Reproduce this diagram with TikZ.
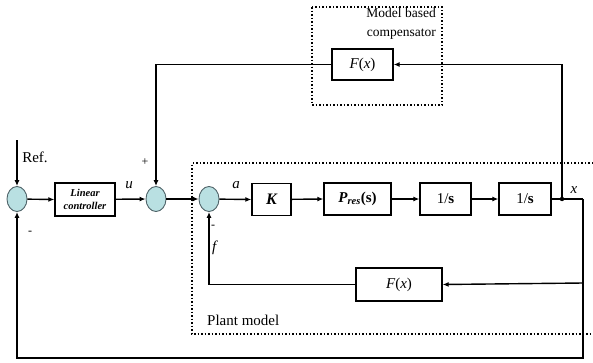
\documentclass[tikz,border=0pt]{standalone}
\usepackage{fontspec}
\setmainfont{Liberation Serif}
\usetikzlibrary{arrows.meta,shapes.geometric}
\definecolor{sumfill}{RGB}{185,224,226}
\definecolor{sumdraw}{RGB}{80,100,105}
\tikzset{
  sumnode/.style={ellipse,draw=sumdraw,fill=sumfill,line width=0.9pt,minimum width=20pt,minimum height=25pt,inner sep=0pt},
  blk/.style={rectangle,draw,line width=1.3pt,inner sep=0pt},
  wire/.style={line width=1.4pt},
  arr/.style={wire,-{Latex[length=6pt,width=5pt]}},
  dotbox/.style={line width=1.5pt,dotted},
  lbl/.style={inner sep=0pt,font=\fontsize{15}{18}\selectfont},
  sgn/.style={inner sep=0pt,font=\fontsize{12}{14}\selectfont}
}
\begin{document}
\begin{tikzpicture}[x=1pt,y=-1pt]
\useasboundingbox (0,0) rectangle (593,362);
% dotted groups
\draw[dotbox] (312,7) rectangle (442,105);
\draw[dotbox] (593,163) -- (192,163) -- (192,334) -- (593,334);
% junctions
\node[sumnode] (s1) at (17,199) {};
\node[sumnode] (s2) at (156,199) {};
\node[sumnode] (s3) at (209,199) {};
% blocks
\node[blk,minimum width=60pt,minimum height=33pt,align=center,font=\fontsize{10.5}{13}\selectfont\bfseries\itshape] (lc) at (85,199.5) {Linear\\controller};
\node[blk,minimum width=39pt,minimum height=32pt,font=\fontsize{16}{18}\selectfont\bfseries\itshape] (K) at (271.5,199.5) {K};
\node[blk,minimum width=67pt,minimum height=32pt,font=\fontsize{15}{18}\selectfont] (P) at (357.5,199) {\textbf{\textit{P}}\textsubscript{\textbf{\textit{res}}}\textbf{(s)}};
\node[blk,minimum width=51pt,minimum height=32pt,font=\fontsize{15}{18}\selectfont] (I1) at (445.5,199) {1/\textbf{s}};
\node[blk,minimum width=52pt,minimum height=32pt,font=\fontsize{15}{18}\selectfont] (I2) at (525,199) {1/\textbf{s}};
\node[blk,minimum width=61pt,minimum height=31pt,font=\fontsize{15}{18}\selectfont] (Fc) at (362.5,64.5) {\textit{F}(\textit{x})};
\node[blk,minimum width=86pt,minimum height=33pt,font=\fontsize{15}{18}\selectfont] (Fp) at (399,284.5) {\textit{F}(\textit{x})};
% coordinates
\coordinate (ref) at (17,140);
\coordinate (br) at (562,199);
\coordinate (rc) at (583,199);
\coordinate (rb) at (583,358);
\coordinate (rf) at (583,283);
% connectors
\draw[arr] (ref) -- (s1.north);
\draw[arr] (s1) -- (lc.west);
\draw[arr] (lc) -- (s2.west);
\draw[arr] (s2) -- (s3.west);
\draw[arr] (s3) -- (K.west);
\draw[arr] (K) -- (P.west);
\draw[arr] (P) -- (I1.west);
\draw[arr] (I1) -- (I2.west);
\draw[wire] (I2.east) -- (rc);
\fill (br) circle (2.2pt);
\draw[arr] (br) |- (Fc.east);
\draw[arr] (Fc.west) -| (s2.north);
\draw[arr] (rc) -- (rb) -| (s1.south);
\draw[arr] (rf) -- (Fp.east);
\draw[arr] (Fp.west) -| (s3.south);
% labels
\node[lbl] (tref) at (35,157) {Ref.};
\node[lbl] (tu) at (129,185) {\textit{u}};
\node[sgn] (tp) at (145,162) {+};
\node[sgn] (tm1) at (30,233) {-};
\node[lbl] (ta) at (236,185) {\textit{a}};
\node[sgn] (tm2) at (213,227) {-};
\node[lbl] (tf) at (215,248) {\textit{f}};
\node[lbl] (tx) at (574,190) {\textit{x}};
\node[inner sep=0pt,anchor=north east,align=right,font=\fontsize{13.5}{18.5}\selectfont] (tmb) at (436,8) {Model based\\compensator};
\node[lbl,anchor=west] (tpm) at (207,320) {Plant model};
\end{tikzpicture}
\end{document}
